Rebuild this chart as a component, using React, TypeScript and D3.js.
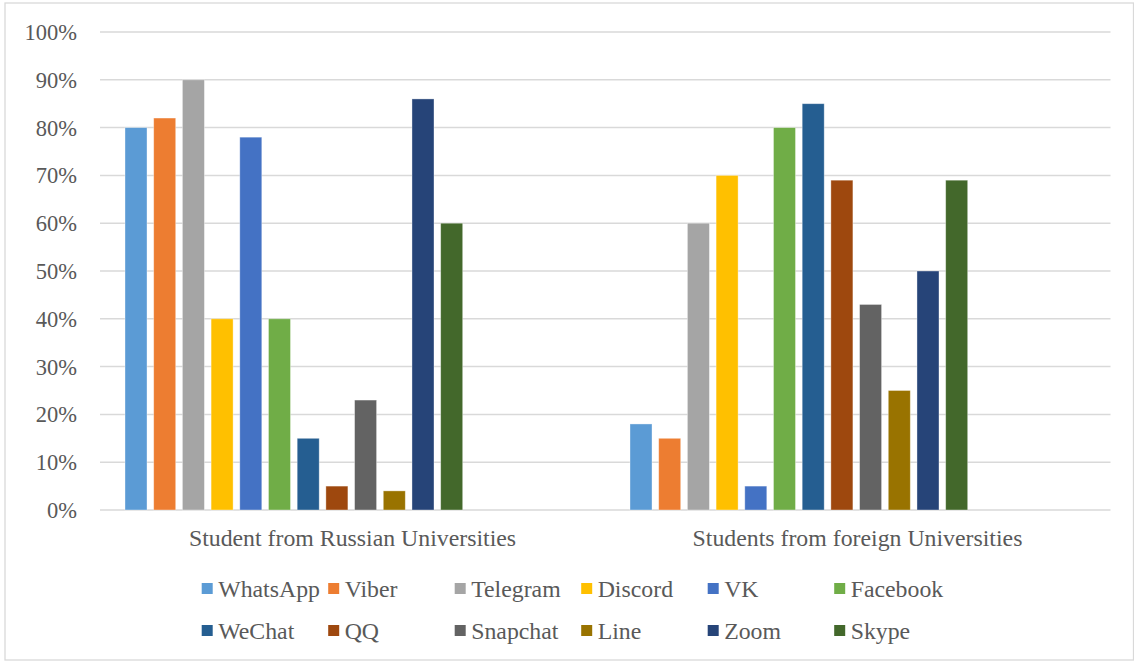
import React from "react";
import * as d3 from "d3";

const categories = ["Student from Russian Universities", "Students from foreign Universities"];
const seriesNames = ["WhatsApp", "Viber", "Telegram", "Discord", "VK", "Facebook", "WeChat", "QQ", "Snapchat", "Line", "Zoom", "Skype"];
const seriesColors = ["#5B9BD5", "#ED7D31", "#A5A5A5", "#FFC000", "#4472C4", "#70AD47", "#255E91", "#9E480E", "#636363", "#997300", "#264478", "#43682B"];
const russianValues = [80, 82, 90, 40, 78, 40, 15, 5, 23, 4, 86, 60];
const foreignValues = [18, 15, 60, 70, 5, 80, 85, 69, 43, 25, 50, 69];
const yTicks = [0, 10, 20, 30, 40, 50, 60, 70, 80, 90, 100];

const W = 1134;
const H = 661;
const FONT = "Liberation Serif, Tinos, Times New Roman, DejaVu Serif, serif";
const TEXT = "#595959";
const GRID = "#D9D9D9";

export default function App() {
  const values = [russianValues, foreignValues];
  const x = d3.scaleBand<string>().domain(categories).range([100, 1110]).padding(0);
  const y = d3.scaleLinear().domain([0, 100]).range([510, 32]);
  const bw = x.bandwidth();

  const inner = (cat: string) =>
    d3
      .scaleBand<string>()
      .domain(seriesNames)
      .range([(x(cat) as number) + bw * 0.0495, (x(cat) as number) + bw * (0.0495 + 0.6687)])
      .paddingInner(0.233)
      .paddingOuter(0);

  const legendX0 = 201.7;
  const legendStep = 126.5;
  const legendRows = [589, 631];

  return (
    <svg width={W} height={H} style={{ position: "absolute", left: 0, top: 0, background: "#fff", fontFamily: FONT }}>
      <rect x={5} y={3} width={W - 5.5} height={H - 4} fill="#fff" stroke={GRID} strokeWidth={1.3} />
      {yTicks.map((t) => (
        <g key={t}>
          <line x1={100} x2={1110.5} y1={y(t)} y2={y(t)} stroke={GRID} strokeWidth={1.5} />
          <text x={77} y={y(t) + 8} textAnchor="end" style={{ fontFamily: FONT }} fontSize={22.5} fill={TEXT}>
            {t}%
          </text>
        </g>
      ))}
      {categories.map((cat, ci) => {
        const xi = inner(cat);
        return (
          <g key={cat}>
            {seriesNames.map((s, si) => (
              <rect
                key={s}
                x={xi(s)}
                y={y(values[ci][si])}
                width={xi.bandwidth()}
                height={y(0) - y(values[ci][si])}
                fill={seriesColors[si]}
                stroke="#ffffff"
                strokeOpacity={0.45}
                strokeWidth={0.8}
              />
            ))}
            <text
              x={(x(cat) as number) + bw / 2}
              y={546}
              textAnchor="middle"
              style={{ fontFamily: FONT }}
              fontSize={23.8}
              fill={TEXT}
            >
              {cat}
            </text>
          </g>
        );
      })}
      {seriesNames.map((s, i) => {
        const col = i % 6;
        const row = Math.floor(i / 6);
        const lx = legendX0 + col * legendStep;
        const cy = legendRows[row];
        return (
          <g key={s}>
            <rect x={lx} y={cy - 6} width={11} height={11} fill={seriesColors[i]} />
            <text x={lx + 16.5} y={cy + 8} style={{ fontFamily: FONT }} fontSize={23.8} fill={TEXT}>
              {s}
            </text>
          </g>
        );
      })}
    </svg>
  );
}
